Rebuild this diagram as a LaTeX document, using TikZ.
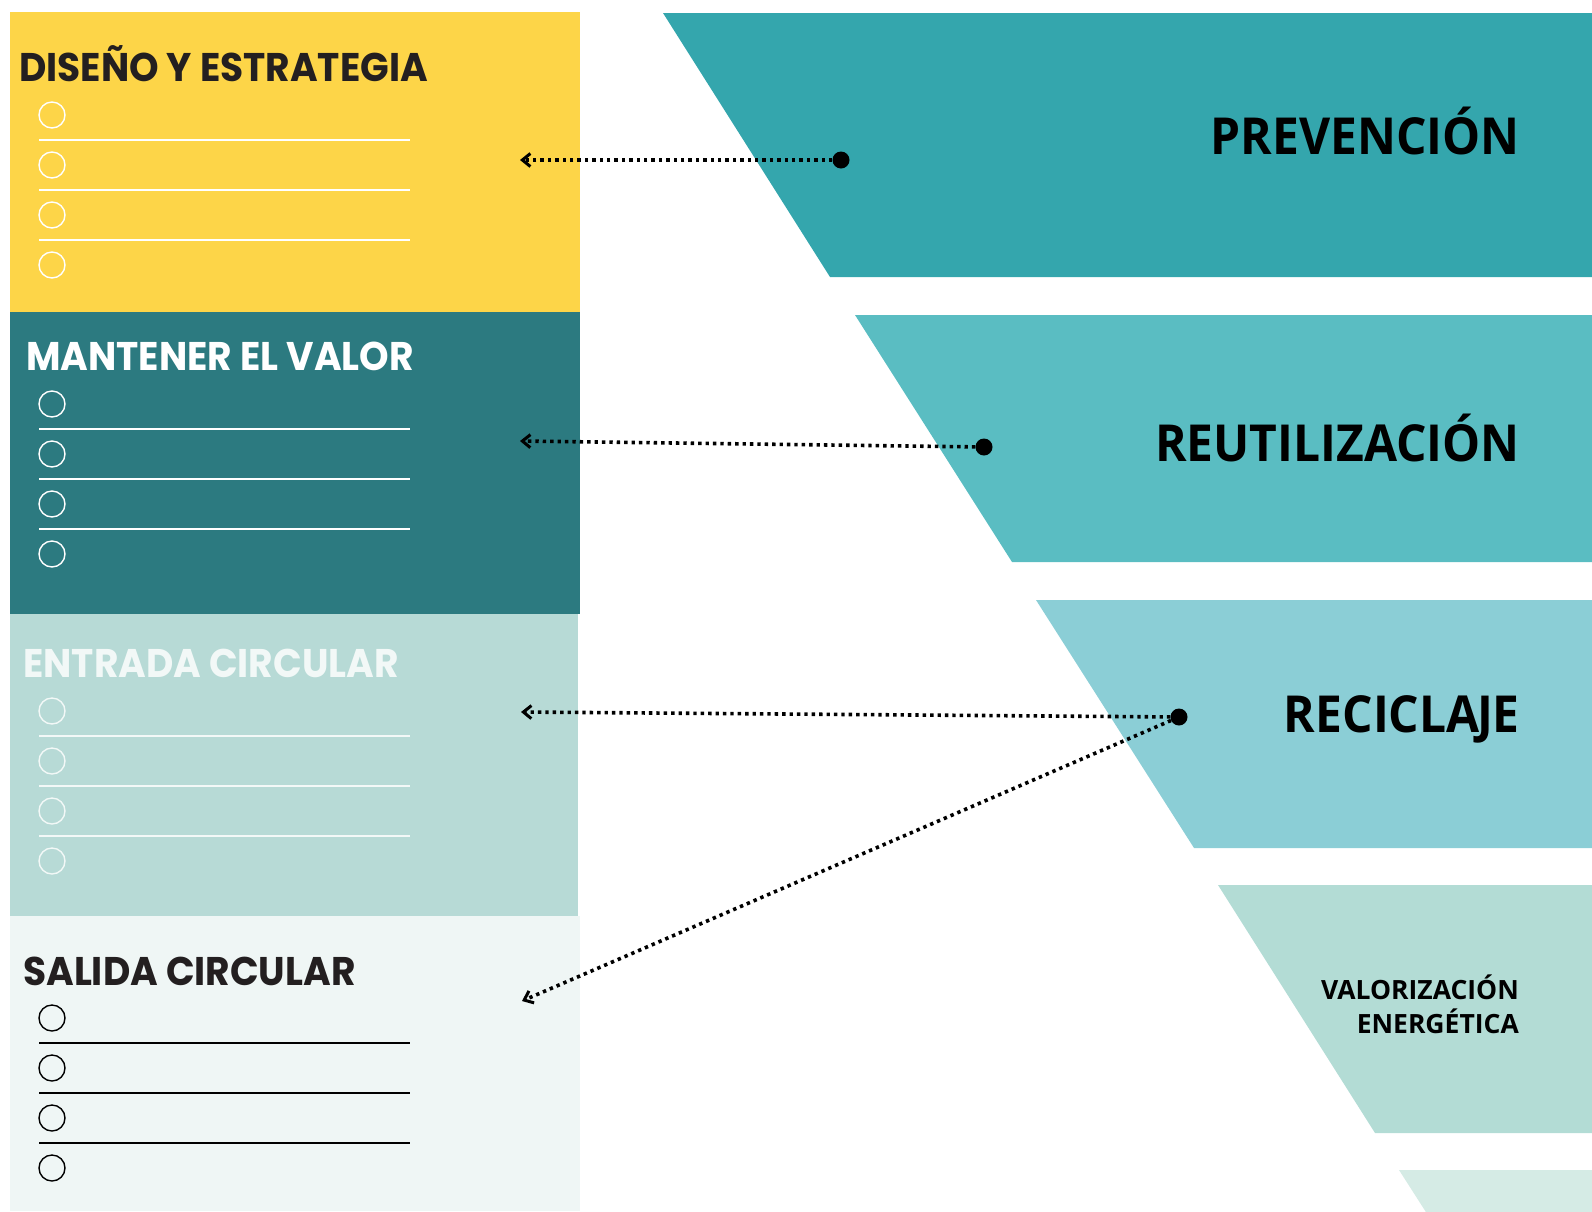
\documentclass[tikz,border=0pt]{standalone}
\usepackage{fontspec}
\newfontfamily\titlefont{Poppins}[FakeStretch=0.94]
\newfontfamily\labfont{Open Sans}[FakeStretch=0.94]
\newfontfamily\labsmallfont{Open Sans}
\usetikzlibrary{arrows.meta}
\definecolor{cYellow}{HTML}{FDD548}
\definecolor{cDark}{HTML}{2C7A80}
\definecolor{cLight}{HTML}{B7DAD6}
\definecolor{cPale}{HTML}{EFF6F5}
\definecolor{tA}{HTML}{34A6AD}
\definecolor{tB}{HTML}{5ABDC2}
\definecolor{tC}{HTML}{8BCED6}
\definecolor{tD}{HTML}{B3DCD5}
\definecolor{tE}{HTML}{D5EBE5}
\definecolor{ink}{HTML}{231F20}
\definecolor{paleText}{HTML}{F2F8F7}
\newcommand\chklist[2]{%
  \foreach \k in {0,1,2,3} {\draw[#2, line width=1.4pt] (52,#1+\k*50) circle[radius=13];}
  \foreach \k in {0,1,2} {\draw[#2, line width=1.4pt] (39,#1+25+\k*50) -- (410,#1+25+\k*50);}
}
\begin{document}
\begin{tikzpicture}[x=1pt,y=-1pt,
  panel/.style={anchor=north west, inner sep=0pt, minimum width=570pt, minimum height=#1},
  ttl/.style={anchor=base west, inner sep=0pt, font=\titlefont\bfseries\fontsize{40}{48}\selectfont},
  big/.style={anchor=base east, inner sep=0pt, font=\labfont\bfseries\fontsize{51}{60}\selectfont},
  small/.style={anchor=base east, inner sep=0pt, font=\labsmallfont\bfseries\fontsize{26.5}{32}\selectfont},
  dotnode/.style={circle, fill=black, inner sep=0pt, minimum size=17pt},
  conn/.style={line width=3.6pt, dash pattern=on 3.4pt off 4pt, -{Straight Barb[length=8pt,width=13pt,line width=3pt]}}]
\useasboundingbox (0,0) rectangle (1592,1211);
\begin{scope}
\clip (0,0) rectangle (1592,1211);
% left panels
\node[panel=300pt, fill=cYellow] (p1) at (10,12) {};
\node[panel=302pt, fill=cDark] (p2) at (10,312) {};
\node[panel=302pt, fill=cLight, minimum width=568pt] (p3) at (10,614) {};
\node[panel=295pt, fill=cPale] (p4) at (10,916) {};
% right trapezoids
\fill[tA] (663,13) -- (1592,13) -- (1592,277) -- (830,277) -- cycle;
\fill[tB] (855,315) -- (1592,315) -- (1592,562) -- (1012,562) -- cycle;
\fill[tC] (1036,600) -- (1592,600) -- (1592,848) -- (1194,848) -- cycle;
\fill[tD] (1218,885) -- (1592,885) -- (1592,1133) -- (1375,1133) -- cycle;
\fill[tE] (1399,1170) -- (1592,1170) -- (1592,1220) -- (1431,1220) -- cycle;
\end{scope}
% titles
\node[ttl, text=ink] (t1) at (19,81) {DISEÑO Y ESTRATEGIA};
\node[ttl, text=white] (t2) at (26,370) {MANTENER EL VALOR};
\node[ttl, text=paleText] (t3) at (23,677) {ENTRADA CIRCULAR};
\node[ttl, text=ink] (t4) at (23,985) {SALIDA CIRCULAR};
% checklists
\chklist{115}{white}
\chklist{404}{white}
\chklist{711}{paleText}
\chklist{1018}{black}
% right labels
\node[big] (r1) at (1520,154) {PREVENCIÓN};
\node[big] (r2) at (1520,461) {REUTILIZACIÓN};
\node[big] (r3) at (1520,732) {RECICLA\kern-2.5pt JE};
\node[small] (r4a) at (1519,999) {VALORIZACIÓN};
\node[small] (r4b) at (1519,1033) {ENERGÉTICA};
% dots and arrows
\node[dotnode] (d1) at (841,160) {};
\node[dotnode] (d2) at (984,447) {};
\node[dotnode] (d3) at (1179,717) {};
\coordinate (a1) at (520,160);
\coordinate (a2) at (520,441);
\coordinate (a3) at (521,712);
\coordinate (a4) at (522,1001);
\draw[conn] (d1) -- (a1);
\draw[conn] (d2) -- (a2);
\draw[conn] (d3) -- (a3);
\draw[conn] (d3) -- (a4);
\end{tikzpicture}
\end{document}
